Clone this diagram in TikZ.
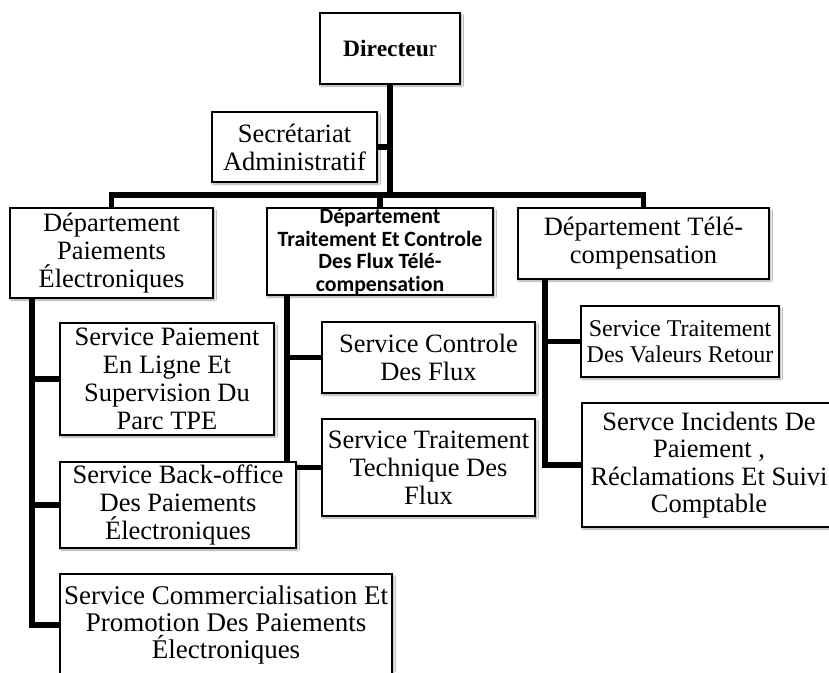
\documentclass[tikz,border=0pt]{standalone}
\usepackage{fontspec}
\setmainfont{Liberation Serif}
\newfontfamily\calibri[Ligatures=NoCommon]{Carlito}
\usetikzlibrary{calc,shadows.blur}
\pgfdeclarelayer{background}
\pgfsetlayers{background,main}
\tikzset{
  orgbox/.style={draw=black, fill=white, line width=1.6pt, inner sep=0pt, align=center,
    blur shadow={shadow blur steps=6, shadow xshift=1.5pt, shadow yshift=-2pt, shadow opacity=35}},
  bx/.style 2 args={orgbox, minimum width=#1pt, minimum height=#2pt},
  link/.style={line width=5.8pt, line join=miter, line cap=rect},
  serif26/.style={font=\fontsize{26.5}{28}\selectfont},
  serif24/.style={font=\fontsize{24}{26}\selectfont},
}
\begin{document}
\begin{tikzpicture}[x=1pt,y=-1pt]
\useasboundingbox (0,0) rectangle (829,672);
% nodes
\node[bx={140}{71}, font=\fontsize{23.5}{26}\selectfont] (dir) at (390,48.5) {\textbf{Directeu}r};
\node[bx={165}{70}, serif26] (sec) at (294.5,147) {Secrétariat\\Administratif};
\node[bx={203}{90}, serif26] (d1) at (111.5,253) {Département\\Paiements\\Électroniques};
\node[bx={226}{87}, font=\calibri\bfseries\fontsize{21.8}{22.6}\selectfont] (d2) at (380,251.5) {Département\\Traitement Et Controle\\Des Flux Télé-\\compensation};
\node[bx={251}{71}, serif26] (d3) at (643.5,243.5) {Département Télé-\\compensation};
\node[bx={214}{112}, serif26] (s11) at (167,379) {Service Paiement\\En Ligne Et\\Supervision Du\\Parc TPE};
\node[bx={236}{86}, serif26] (s12) at (178,505) {Service Back-office\\Des Paiements\\Électroniques};
\node[bx={332}{102}, font=\fontsize{27}{27}\selectfont] (s13) at (226,625) {Service Commercialisation Et\\Promotion Des Paiements\\Électroniques};
\node[bx={213}{71}, serif26] (s21) at (428.5,357.5) {Service Controle\\Des Flux};
\node[bx={213}{97}, serif26] (s22) at (428.5,467.5) {Service Traitement\\Technique Des\\Flux};
\node[bx={198}{71}, serif24] (s31) at (680,341.5) {Service Traitement\\Des Valeurs Retour};
\node[bx={254}{124}, font=\fontsize{26.5}{27.5}\selectfont] (s32) at (709,465) {Servce Incidents De\\Paiement ,\\Réclamations Et Suivi\\Comptable};
% connectors
\coordinate (bar) at (0,195);
\coordinate (d1s) at ($(d1.south west)+(23,0)$);
\coordinate (d2s) at ($(d2.south west)+(21,0)$);
\coordinate (d3s) at ($(d3.south west)+(28,0)$);
\begin{pgfonlayer}{background}
\fill[white] (0,0) rectangle (829,672);
\draw[link] (dir.south) -- (dir.south |- bar);
\draw[link] (d1.north) -- (d1.north |- bar) -- (d3.north |- bar) -- (d3.north);
\draw[link] (d2.north) -- (d2.north |- bar);
\draw[link] (sec.east) -- (sec.east -| dir.south);
\draw[link] (d1s) |- (s13.west);
\draw[link] (d1s |- s11.west) -- (s11.west);
\draw[link] (d1s |- s12.west) -- (s12.west);
\draw[link] (d2s) |- (s22.west);
\draw[link] (d2s |- s21.west) -- (s21.west);
\draw[link] (d3s) |- (s32.west);
\draw[link] (d3s |- s31.west) -- (s31.west);
\end{pgfonlayer}
\end{tikzpicture}
\end{document}
